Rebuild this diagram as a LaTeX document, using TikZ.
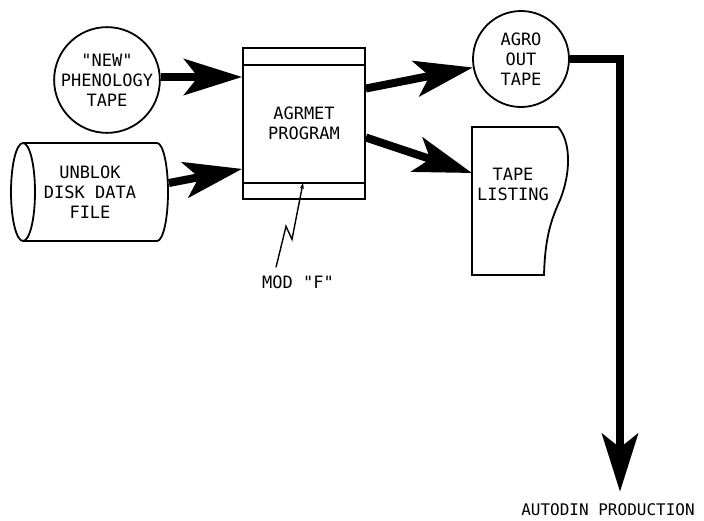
\documentclass[tikz,border=0pt]{standalone}
\usepackage{fontspec}
\setmainfont{DejaVu Sans Mono}
\usetikzlibrary{arrows.meta}

\newcommand{\qq}{\textquotedbl}

\begin{document}
\begin{tikzpicture}[x=1pt,y=-1pt,line width=1.8pt,
        font=\fontsize{17}{20}\selectfont,
        tape/.style={draw,circle,minimum size=96pt,inner sep=0pt,align=center},
        flow/.style={line width=8pt,-{Stealth[length=58pt,width=36pt,inset=14pt]}}]
        \useasboundingbox (0,0) rectangle (704,520);
        % \draw[help lines,step=20] (0,0) grid (704,520);
        \node[tape] (phen) at (107,80) {\qq NEW\qq\\PHENOLOGY\\TAPE};
        % disk file
        \draw (23,192) ellipse [x radius=12,y radius=49];
        \draw (23,143) -- (157,143) arc [start angle=-90,end angle=90,x radius=11,y radius=49]
              -- (23,241);
        \node[minimum width=156pt,minimum height=98pt,align=center]
              (unblok) at (90,192) {UNBLOK\\DISK DATA\\FILE};
        \node[draw,minimum width=122pt,minimum height=151pt,align=center]
              (agrmet) at (304,123.5) {AGRMET\\PROGRAM};
        \draw ([yshift=-18pt]agrmet.north west) -- ([yshift=-18pt]agrmet.north east);
        \draw ([yshift=17pt]agrmet.south west) -- ([yshift=17pt]agrmet.south east);
        \node[tape] (agro) at (521,59) {AGRO\\OUT\\TAPE};
        % listing sheet
        \draw (472,127) -- (558,127) .. controls (570,140) and (572,170) .. (560,200)
              .. controls (550,222) and (545,240) .. (544,275) -- (472,275) -- cycle;
        \coordinate (listin) at (472,173);
        \node[align=center] (listing) at (513,184) {TAPE\\LISTING};
        \node[font=\fontsize{16}{20}\selectfont] (autodin) at (608,510) {AUTODIN PRODUCTION};
        \node (mod) at (298,282) {MOD \qq F\qq};
        \draw[flow] ([yshift=3pt]phen.east) -- ([yshift=3pt]phen.east -| agrmet.west);
        \draw[flow] ([yshift=9pt]unblok.east) -- ([yshift=31pt]agrmet.south west);
        \draw[flow] ([yshift=35pt]agrmet.east) -- (agro.190);
        \draw[flow] ([yshift=-14pt]agrmet.east) -- (listin);
        \draw[flow] (agro.east) -| ([xshift=12pt,yshift=8pt]autodin.north);
        \draw[line width=1.4pt,-{Stealth[length=6pt,width=4pt]}]
              ([xshift=-22pt,yshift=4pt]mod.north) -- ++(10,-41) -- ++(6,13)
              -- ([xshift=-1pt,yshift=17pt]agrmet.south);
\end{tikzpicture}
\end{document}
